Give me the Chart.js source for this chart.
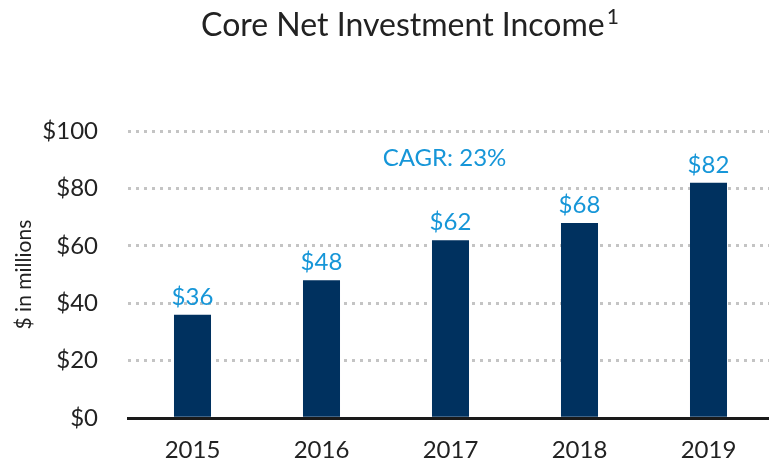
<!DOCTYPE html>
<html>
<head>
<meta charset="utf-8">
<script src="https://cdn.jsdelivr.net/npm/chart.js@4"></script>
<style>
  html, body { margin: 0; padding: 0; background: #fff; overflow: hidden; }
  #wrap { position: relative; width: 773px; height: 475px; }
</style>
</head>
<body>
<div id="wrap"><canvas id="myChart"></canvas></div>
<script>
// données
const years = ['2015', '2016', '2017', '2018', '2019'];
const income = [36, 48, 62, 68, 82];
const yTicks = [0, 20, 40, 60, 80, 100];
const cagrText = 'CAGR: 23%';
const titleText = 'Core Net Investment Income';
const titleNote = '1';

const navy = '#00315f';
const blue = '#1696d8';
const fontFam = "'Lato', 'Noto Sans', sans-serif";

// titre, étiquettes au-dessus des barres + texte CAGR
const labelsPlugin = {
    id: 'barLabels',
    afterDatasetsDraw(chart) {
        const ctx = chart.ctx;
        const meta = chart.getDatasetMeta(0);
        ctx.save();

        // titre avec exposant
        ctx.fillStyle = '#222';
        ctx.textBaseline = 'alphabetic';
        ctx.font = '32px ' + fontFam;
        const w1 = ctx.measureText(titleText).width;
        ctx.font = '21px ' + fontFam;
        const w2 = ctx.measureText(titleNote).width;
        const tx = 410 - (w1 + w2 + 2) / 2;
        ctx.textAlign = 'left';
        ctx.font = '32px ' + fontFam;
        ctx.fillText(titleText, tx, 36);
        ctx.font = '21px ' + fontFam;
        ctx.fillText(titleNote, tx + w1 + 2, 24);

        ctx.fillStyle = blue;
        ctx.font = '24px ' + fontFam;
        ctx.textAlign = 'center';
        meta.data.forEach((bar, i) => {
            ctx.fillText('$' + income[i], bar.x, bar.y - 10);
        });
        const xs = chart.scales.x;
        const ys = chart.scales.y;
        ctx.textBaseline = 'middle';
        ctx.font = '24px ' + fontFam;
        ctx.fillText(cagrText, xs.getPixelForValue(2) - 6, ys.getPixelForValue(90.5));
        ctx.restore();
    }
};

new Chart(document.getElementById('myChart'), {
    type: 'bar',
    data: {
        labels: years,
        datasets: [{
            data: income,
            backgroundColor: navy,
            barPercentage: 0.287,
            categoryPercentage: 1,
        }],
    },
    options: {
        responsive: true,
        maintainAspectRatio: false,
        animation: false,
        layout: { padding: { left: 0, right: 0, top: 131, bottom: 0 } },
        plugins: {
            legend: { display: false },
            tooltip: { enabled: false },
            title: { display: false },
        },
        scales: {
            x: {
                grid: { display: false },
                border: { color: '#1a1a1a', width: 3 },
                ticks: { color: '#222', font: { family: fontFam, size: 24 }, padding: 10 },
            },
            y: {
                min: 0,
                max: 100,
                afterBuildTicks(scale) {
                    scale.ticks = yTicks.map(v => ({ value: v }));
                },
                afterFit(scale) {
                    scale.width = 128;
                },
                border: { display: false, dash: [3, 5] },
                grid: {
                    color: (c) => c.tick && c.tick.value === 0 ? 'rgba(0,0,0,0)' : '#c4c4c4',
                    lineWidth: 3,
                    drawTicks: false,
                },
                ticks: {
                    color: '#222',
                    font: { family: fontFam, size: 24 },
                    padding: 30,
                    callback: (v) => '$' + v,
                },
                title: {
                    display: true,
                    text: '$ in millions',
                    color: '#222',
                    font: { family: fontFam, size: 21 },
                    padding: { top: 12, bottom: 0 },
                },
            },
        },
    },
    plugins: [labelsPlugin],
});
</script>
</body>
</html>
